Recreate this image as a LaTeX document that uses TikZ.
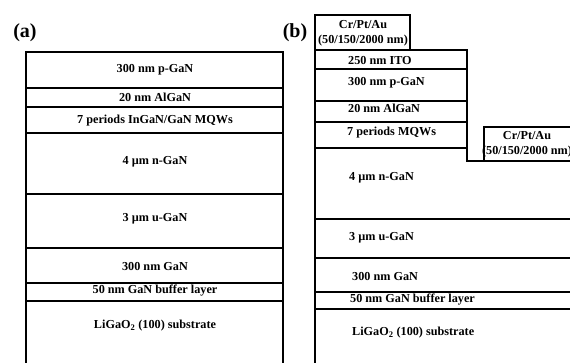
\documentclass[tikz,border=0pt]{standalone}
\usepackage{fontspec}
\setmainfont{Liberation Serif}
\usetikzlibrary{positioning}

\begin{document}
\begin{tikzpicture}[x=1pt, y=-1pt,
  layer/.style={draw, line width=1.6pt},
  lbl/.style={font=\bfseries\fontsize{12.2}{15}\selectfont, inner sep=0pt},
  panel/.style={font=\bfseries\fontsize{20}{22}\selectfont, inner sep=0pt}]
  \fill [white] (0,0) rectangle (570,362);
  \clip (0,0) rectangle (570,362);

  % panel labels
  \node [panel] (pa) at (25,33) {(a)};
  \node [panel] (pb) at (295,33) {(b)};

  % (a) epitaxial stack
  \foreach \t/\b in {52/88, 88/107, 107/133, 133/194, 194/248, 248/283, 283/301, 301/372} {
    \draw [layer] (26,\t) rectangle (283,\b);
  }
  \node [lbl] (a1) at (155,70)  {300 nm p-GaN};
  \node [lbl] (a2) at (155,97)  {20 nm AlGaN};
  \node [lbl] (a3) at (155,121) {7 periods InGaN/GaN MQWs};
  \node [lbl] (a4) at (155,162) {4 \textmu m n-GaN};
  \node [lbl] (a5) at (155,219) {3 \textmu m u-GaN};
  \node [lbl] (a6) at (155,266) {300 nm GaN};
  \node [lbl] (a7) at (155,291) {50 nm GaN buffer layer};
  \node [lbl] (a8) at (155,326) {LiGaO\textsubscript{2} (100) substrate};

  % (b) processed device
  \draw [layer] (315,15) rectangle (410,50);
  \foreach \t/\b in {50/69, 69/101, 101/122, 122/148} {
    \draw [layer] (315,\t) rectangle (467,\b);
  }
  \draw [layer] (315,148) -- (467,148) -- (467,161) -- (580,161) -- (580,219) -- (315,219) -- cycle;
  \draw [layer] (484,127) rectangle (580,161);
  \foreach \t/\b in {219/258, 258/292, 292/309, 309/372} {
    \draw [layer] (315,\t) rectangle (580,\b);
  }

  % p- and n-contacts
  \node [lbl, align=center] (pc) at (363,33.5) {Cr/Pt/Au\\(50/150/2000 nm)};
  \node [lbl, align=center] (nc) at (527,144) {Cr/Pt/Au\\(50/150/2000 nm)};

  \node [lbl, anchor=west] (b1) at (348,60)  {250 nm ITO};
  \node [lbl, anchor=west] (b2) at (348,83)  {300 nm p-GaN};
  \node [lbl, anchor=west] (b3) at (348,108) {20 nm AlGaN};
  \node [lbl, anchor=west] (b4) at (347,133) {7 periods MQWs};
  \node [lbl, anchor=west] (b5) at (349,178) {4 \textmu m n-GaN};
  \node [lbl, anchor=west] (b6) at (349,238) {3 \textmu m u-GaN};
  \node [lbl, anchor=west] (b7) at (352,276) {300 nm GaN};
  \node [lbl, anchor=west] (b8) at (350,300) {50 nm GaN buffer layer};
  \node [lbl, anchor=west] (b9) at (352,333) {LiGaO\textsubscript{2} (100) substrate};
\end{tikzpicture}
\end{document}
